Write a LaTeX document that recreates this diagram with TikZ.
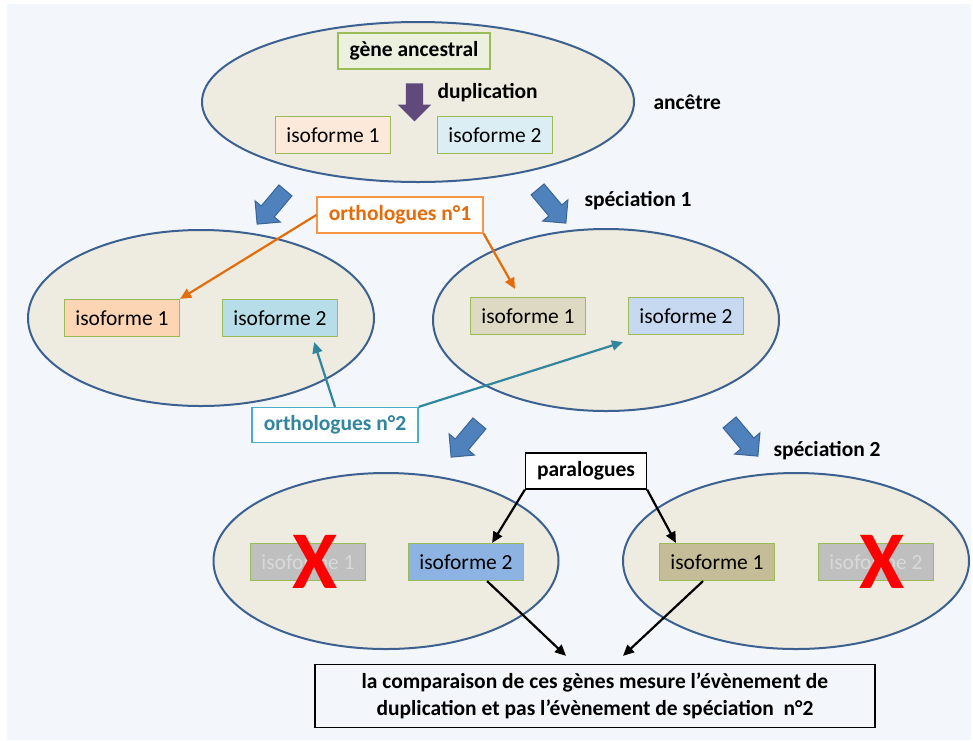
\documentclass[tikz,border=0pt]{standalone}
\usepackage{fontspec}
\setmainfont{Carlito}
\usepackage{xcolor}
\usetikzlibrary{shapes.geometric,shapes.arrows,arrows.meta}
\definecolor{slidebg}{HTML}{F3F6FB}
\definecolor{cellfill}{HTML}{EEECE1}
\definecolor{cellline}{HTML}{3C6190}
\definecolor{boxgreen}{HTML}{9BBB59}
\definecolor{genefill}{HTML}{EBF1DE}
\definecolor{peachlight}{HTML}{FDE9D9}
\definecolor{bluelight}{HTML}{DAEEF3}
\definecolor{peach}{HTML}{FCD5B5}
\definecolor{cyanish}{HTML}{B7DEE8}
\definecolor{tanlight}{HTML}{DDD9C3}
\definecolor{bluegrey}{HTML}{C6D9F1}
\definecolor{bluemid}{HTML}{8DB3E2}
\definecolor{tandark}{HTML}{C4BD97}
\definecolor{lostfill}{HTML}{BFBFBF}
\definecolor{losttext}{HTML}{D9D9D9}
\definecolor{orthoorange}{HTML}{E46C0A}
\definecolor{ortholine}{HTML}{F79646}
\definecolor{orthoteal}{HTML}{31859C}
\definecolor{tealline}{HTML}{4BACC6}
\definecolor{specblue}{HTML}{4F81BD}
\definecolor{specline}{HTML}{3A6496}
\definecolor{dupviolet}{HTML}{604A7B}

\begin{document}
\begin{tikzpicture}[
    x=1pt, y=-1pt,
    every node/.style={font=\fontsize{21.5}{27}\selectfont},
    cell/.style={ellipse, draw=cellline, line width=2pt, fill=cellfill, inner sep=0pt},
    iso/.style={draw=boxgreen, line width=1.2pt, minimum width=115pt, minimum height=37pt, inner sep=0pt},
    notebox/.style={fill=white, line width=1.3pt, inner sep=0pt, font=\fontsize{21.5}{27}\selectfont\bfseries},
    specarrow/.style={single arrow, draw=specline, fill=specblue, line width=1pt,
      minimum height=44pt, single arrow head extend=8pt, inner xsep=0pt, inner ysep=8pt},
    link/.style={-{Triangle[length=11pt,width=10pt]}, line width=2.2pt},
    cross/.style={text=red, font=\fontsize{82}{82}\selectfont\bfseries, inner sep=0pt}
  ]
  \useasboundingbox (0,0) rectangle (973,740);
  \fill[slidebg] (7,4) rectangle (971,740);

  \node[cell, minimum width=432pt, minimum height=160pt] (ancestor) at (418,102) {};
  \node[cell, minimum width=346pt, minimum height=176pt] (speciesA) at (201,318) {};
  \node[cell, minimum width=346pt, minimum height=182pt] (speciesB) at (606,320) {};
  \node[cell, minimum width=345pt, minimum height=176pt] (speciesB1) at (386,561) {};
  \node[cell, minimum width=346pt, minimum height=176pt] (speciesB2) at (796,561) {};

  \node[
    draw=boxgreen,
    fill=genefill,
    line width=1.2pt,
    minimum width=152pt,
    minimum height=36pt,
    font=\fontsize{21.5}{27}\selectfont\bfseries
  ] (gene) at (414,51) {gène ancestral};
  \node[single arrow, fill=dupviolet, rotate=-90, minimum height=38pt,
    single arrow head extend=8pt, inner xsep=0pt, inner ysep=8.5pt] (dup) at (414.5,98) {};
  \node[anchor=west, font=\fontsize{21.5}{27}\selectfont\bfseries] (duptext) at (434,93) {duplication};
  \node[anchor=west, font=\fontsize{21.5}{27}\selectfont\bfseries] (anctext) at (650,102) {ancêtre};

  \node[iso, fill=peachlight] (isoA1) at (333,135) {isoforme 1};
  \node[iso, fill=bluelight] (isoA2) at (495,135) {isoforme 2};
  \node[iso, fill=peach] (isoL1) at (122,318) {isoforme 1};
  \node[iso, fill=cyanish] (isoL2) at (280,318) {isoforme 2};
  \node[iso, fill=tanlight] (isoR1) at (528,316) {isoforme 1};
  \node[iso, fill=bluegrey] (isoR2) at (686,316) {isoforme 2};
  \node[iso, fill=lostfill, text=losttext] (isoB1) at (308,562) {isoforme 1};
  \node[iso, fill=bluemid] (isoB2) at (466,562) {isoforme 2};
  \node[iso, fill=tandark] (isoC1) at (717,562) {isoforme 1};
  \node[iso, fill=lostfill, text=losttext] (isoC2) at (876,562) {isoforme 2};
  \node[cross] (lostB1) at (315,562) {X};
  \node[cross] (lostC2) at (882,562) {X};

  \node[specarrow, rotate=230] (splitA) at (274,204) {};
  \node[specarrow, rotate=-50] (splitB) at (549,203) {};
  \node[specarrow, rotate=230] (splitB1) at (468,437) {};
  \node[specarrow, rotate=-50] (splitB2) at (741,436) {};
  \node[anchor=west, font=\fontsize{21.5}{27}\selectfont\bfseries] (sp1text) at (581,201) {spéciation 1};
  \node[anchor=west, font=\fontsize{21.5}{27}\selectfont\bfseries] (sp2text) at (770,451) {spéciation 2};

  \node[notebox, draw=ortholine, text=orthoorange, minimum width=166pt, minimum height=36pt] (orth1) at (400,215) {orthologues n°1};
  \node[notebox, draw=tealline, text=orthoteal, minimum width=166pt, minimum height=35pt] (orth2) at (335,425) {orthologues n°2};
  \node[notebox, draw=black, minimum width=121pt, minimum height=36pt] (para) at (586,471) {paralogues};
  \node[notebox, draw=black, fill=slidebg, align=center, minimum width=560pt, minimum height=63pt] (result) at (595,696)
    {la comparaison de ces gènes mesure l’évènement de\\duplication et pas l’évènement de spéciation~~n°2};

  \draw[link, orthoorange] (orth1.west) -- (isoL1.north east);
  \draw[link, orthoorange] (orth1.south east) -- ([xshift=-13pt,yshift=8pt]isoR1.north);
  \draw[link, orthoteal] (orth2.north) -- ([xshift=-24pt,yshift=-5pt]isoL2.south east);
  \draw[link, orthoteal] (orth2.north east) -- ([xshift=-5pt,yshift=-7pt]isoR2.south west);
  \draw[link] (para.south west) -- ([xshift=-32pt]isoB2.north east);
  \draw[link] (para.south east) -- ([xshift=17pt]isoC1.north west);
  \draw[link] ([xshift=-37pt]isoB2.south east) -- ([xshift=-29pt,yshift=8pt]result.north);
  \draw[link] ([xshift=-14pt]isoC1.south) -- ([xshift=28pt,yshift=8pt]result.north);
\end{tikzpicture}
\end{document}
